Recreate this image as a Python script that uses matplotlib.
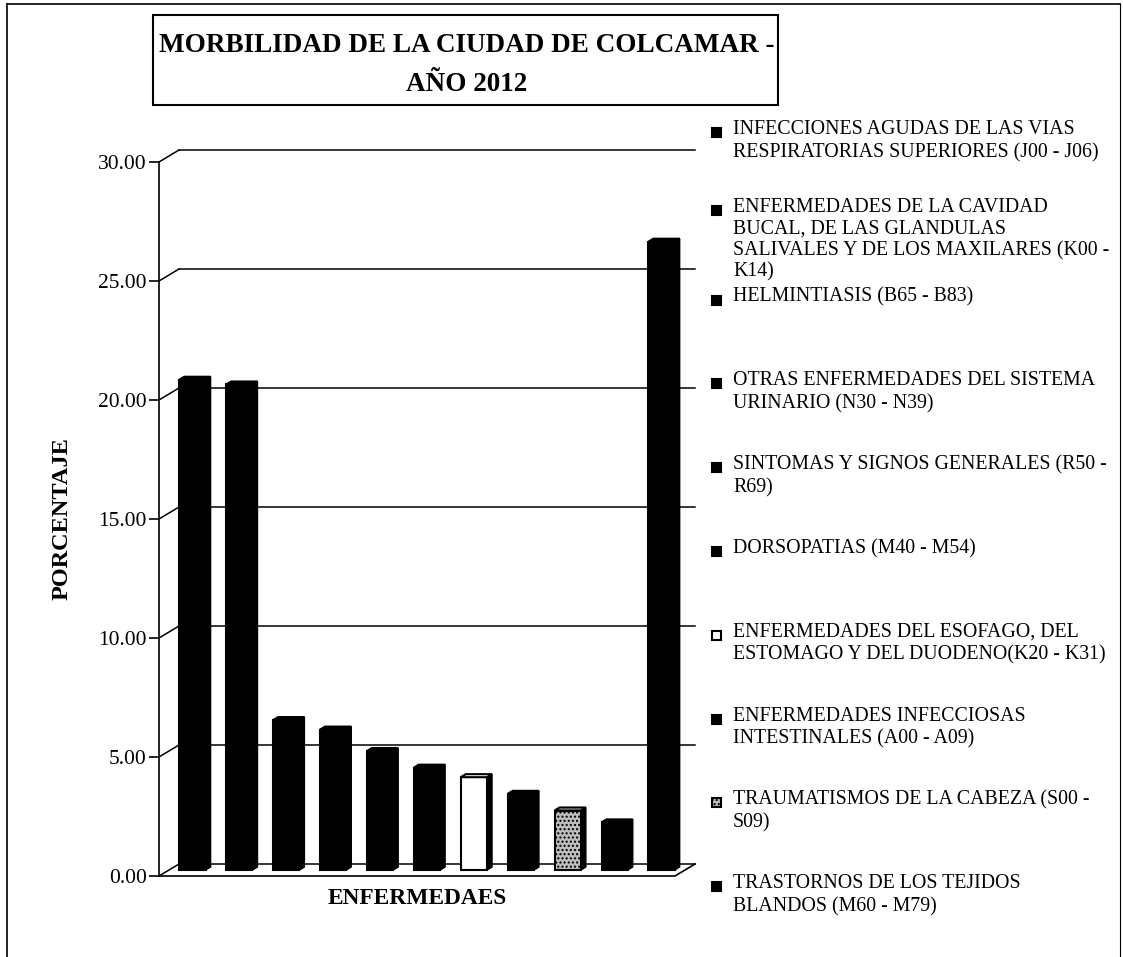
import numpy as np
import matplotlib
matplotlib.use('Agg')
import matplotlib.pyplot as plt
from matplotlib.patches import Polygon, Rectangle

plt.rcParams['font.family'] = ['Liberation Serif', 'DejaVu Serif']

# porcentaje de cada grupo de enfermedades (el ultimo sin leyenda)
values = [20.6, 20.4, 6.3, 5.9, 5.0, 4.3, 3.9, 3.2, 2.5, 2.0, 26.4]
legend_labels = [
    'INFECCIONES AGUDAS DE LAS VIAS\nRESPIRATORIAS SUPERIORES (J00 - J06)',
    'ENFERMEDADES DE LA CAVIDAD\nBUCAL, DE LAS GLANDULAS\nSALIVALES Y DE LOS MAXILARES (K00 -\nK14)',
    'HELMINTIASIS (B65 - B83)',
    'OTRAS ENFERMEDADES DEL SISTEMA\nURINARIO (N30 - N39)',
    'SINTOMAS Y SIGNOS GENERALES (R50 -\nR69)',
    'DORSOPATIAS (M40 - M54)',
    'ENFERMEDADES DEL ESOFAGO, DEL\nESTOMAGO Y DEL DUODENO(K20 - K31)',
    'ENFERMEDADES INFECCIOSAS\nINTESTINALES (A00 - A09)',
    'TRAUMATISMOS DE LA CABEZA (S00 -\nS09)',
    'TRASTORNOS DE LOS TEJIDOS\nBLANDOS (M60 - M79)',
]
yticks = [0, 5, 10, 15, 20, 25, 30]

# estilo de cada barra: (relleno, trama)
bar_styles = [('black', None)] * 6 + [('white', None), ('black', None),
                                      ('#bdbdbd', '....'), ('black', None), ('black', None)]

W, H = 1123, 957
fig = plt.figure(figsize=(W / 100, H / 100), dpi=100)

# marco exterior
fig.add_artist(plt.Line2D([7 / W, 7 / W], [0, 1 - 4 / H], color='black', lw=1.2))
fig.add_artist(plt.Line2D([7 / W, 1120 / W], [1 - 4 / H, 1 - 4 / H], color='black', lw=1.2))
fig.add_artist(plt.Line2D([1120 / W, 1120 / W], [0, 1 - 4 / H], color='black', lw=0.8))

# plano frontal del grafico (pixeles)
px0, px1 = 159, 675
py0, py1 = 876, 162
ax = fig.add_axes([px0 / W, 1 - py0 / H, (px1 - px0) / W, (py0 - py1) / H])
n = len(values)
ax.set_xlim(0, n)
ax.set_ylim(0, 30)
for s in ['top', 'right', 'bottom']:
    ax.spines[s].set_visible(False)
ax.spines['left'].set_linewidth(1.2)
ax.set_xticks([])
ax.set_yticks(yticks)
ax.set_yticklabels(['%.2f' % v for v in yticks], fontsize=15.5)
ax.tick_params(axis='y', length=7, width=1.2, pad=2)

# profundidad en unidades de datos
ddx = 20 / (px1 - px0) * n
ddy = 12 / (py0 - py1) * 30

# lineas de division en la pared del fondo y pared lateral
for v in yticks:
    ax.plot([ddx, n + ddx], [v + ddy, v + ddy], color='black', lw=1.1, clip_on=False)
    ax.plot([0, ddx], [v, v + ddy], color='black', lw=1.1, clip_on=False)
# piso
ax.plot([0, n, n + ddx], [0, 0, ddy], color='black', lw=1.2, clip_on=False)

# barras 3D simples a media profundidad
bw = 0.56
tx = 5 / (px1 - px0) * n
ty = 3 / (py0 - py1) * 30
x = np.arange(n) + 0.5 + ddx / 2
base = ddy / 2
for xi, v, (fc, hatch) in zip(x, values, bar_styles):
    ax.bar(xi, v, width=bw, bottom=base, color=fc, edgecolor='black', lw=1.5,
           hatch=hatch, clip_on=False, zorder=3)
    left, right, top = xi - bw / 2, xi + bw / 2, base + v
    ax.add_patch(Polygon([[left, top], [left + tx, top + ty], [right + tx, top + ty],
                          [right, top]], closed=True, facecolor=fc, edgecolor='black',
                         lw=1.5, clip_on=False, zorder=3))
    ax.add_patch(Polygon([[right, base], [right + tx, base + ty], [right + tx, top + ty],
                          [right, top]], closed=True, facecolor='black', edgecolor='black',
                         lw=1.0, clip_on=False, zorder=3))

ax.set_ylabel('PORCENTAJE', fontsize=17.5, fontweight='bold')
ax.set_xlabel('ENFERMEDAES', fontsize=16.8, fontweight='bold', labelpad=9)
ax.yaxis.set_label_coords(-(px0 - 73) / (px1 - px0), 0.5)

# titulo en recuadro
fig.add_artist(Rectangle((153 / W, 1 - 105 / H), (778 - 153) / W, 90 / H,
                         transform=fig.transFigure, fill=False, edgecolor='black', lw=1.5))
fig.text(467 / W, 1 - 65 / H, 'MORBILIDAD DE LA CIUDAD DE COLCAMAR -\nAÑO 2012',
         ha='center', va='center', fontsize=19.5, fontweight='bold', linespacing=1.75)

# leyenda manual (separacion fija, como en el original)
leg_top = 120
leg_step = 83.8
for i, lab in enumerate(legend_labels):
    yt = leg_top + i * leg_step
    ls = 1.27
    if lab.count('\n') > 2:
        # entrada de 4 lineas: un poco mas arriba y compacta
        yt -= 6
        ls = 1.18
    fc, hatch = bar_styles[i]
    fig.add_artist(Rectangle((712 / W, 1 - (yt + 17) / H), 9 / W, 9 / H,
                             transform=fig.transFigure, facecolor=fc, edgecolor='black',
                             lw=1.5, hatch=hatch))
    fig.text(733 / W, 1 - yt / H, lab, ha='left', va='top', fontsize=14.3, linespacing=ls)

fig.savefig('out.png', dpi=100)
